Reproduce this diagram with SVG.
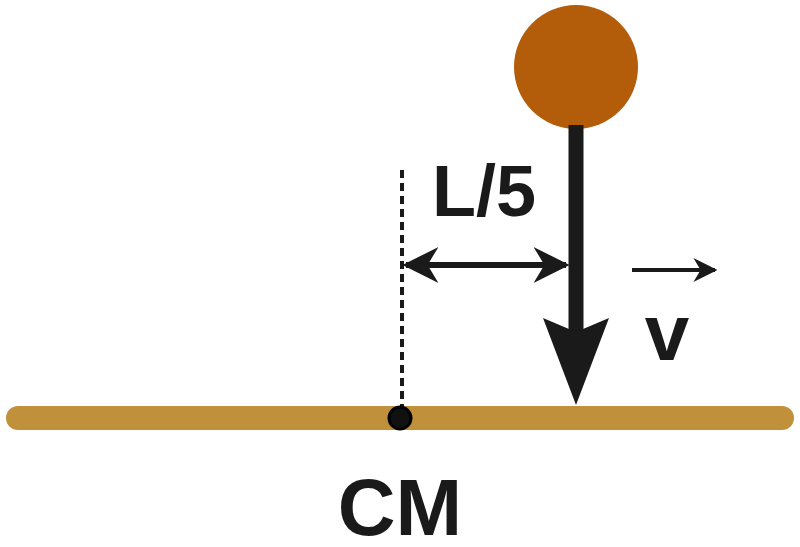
<svg xmlns="http://www.w3.org/2000/svg" width="800" height="547" viewBox="0 0 800 547">
<style>text{font-family:"Liberation Sans",Arial,sans-serif;font-weight:bold;fill:#1a1a1a;text-anchor:middle}</style>
<defs>
<marker id="ah" viewBox="0 0 10 10" refX="9" refY="5" markerWidth="6" markerHeight="6" orient="auto-start-reverse" markerUnits="strokeWidth"><path d="M0,0 L10,5 L0,10 L3,5 Z" fill="#1a1a1a"/></marker>
</defs>
<rect width="800" height="547" fill="#fff"/>
<g id="bar"><line x1="18" y1="418" x2="782" y2="418" stroke="#C0903A" stroke-width="24" stroke-linecap="round"/></g>
<g id="mass"><circle cx="576" cy="67" r="62" fill="#B35C0A"/>
<line x1="576" y1="125" x2="576" y2="335" stroke="#1a1a1a" stroke-width="15"/>
<path d="M543,318 L576,405 L609,318 L576,332 Z" fill="#1a1a1a"/></g>
<g id="connectors">
<line x1="402" y1="170" x2="402" y2="410" stroke="#1a1a1a" stroke-width="4" stroke-dasharray="8,5"/>
<line x1="406" y1="265" x2="566" y2="265" stroke="#1a1a1a" stroke-width="6" marker-start="url(#ah)" marker-end="url(#ah)"/>
<line x1="632" y1="270" x2="715" y2="270" stroke="#1a1a1a" stroke-width="4" marker-end="url(#ah)"/>
</g>
<g id="cm"><circle cx="400" cy="418" r="11" fill="#111" stroke="#000" stroke-width="3"/></g>
<text x="484" y="216" font-size="72">L/5</text>
<text x="667" y="360" font-size="80">v</text>
<text x="400" y="535" font-size="80">CM</text>
</svg>
